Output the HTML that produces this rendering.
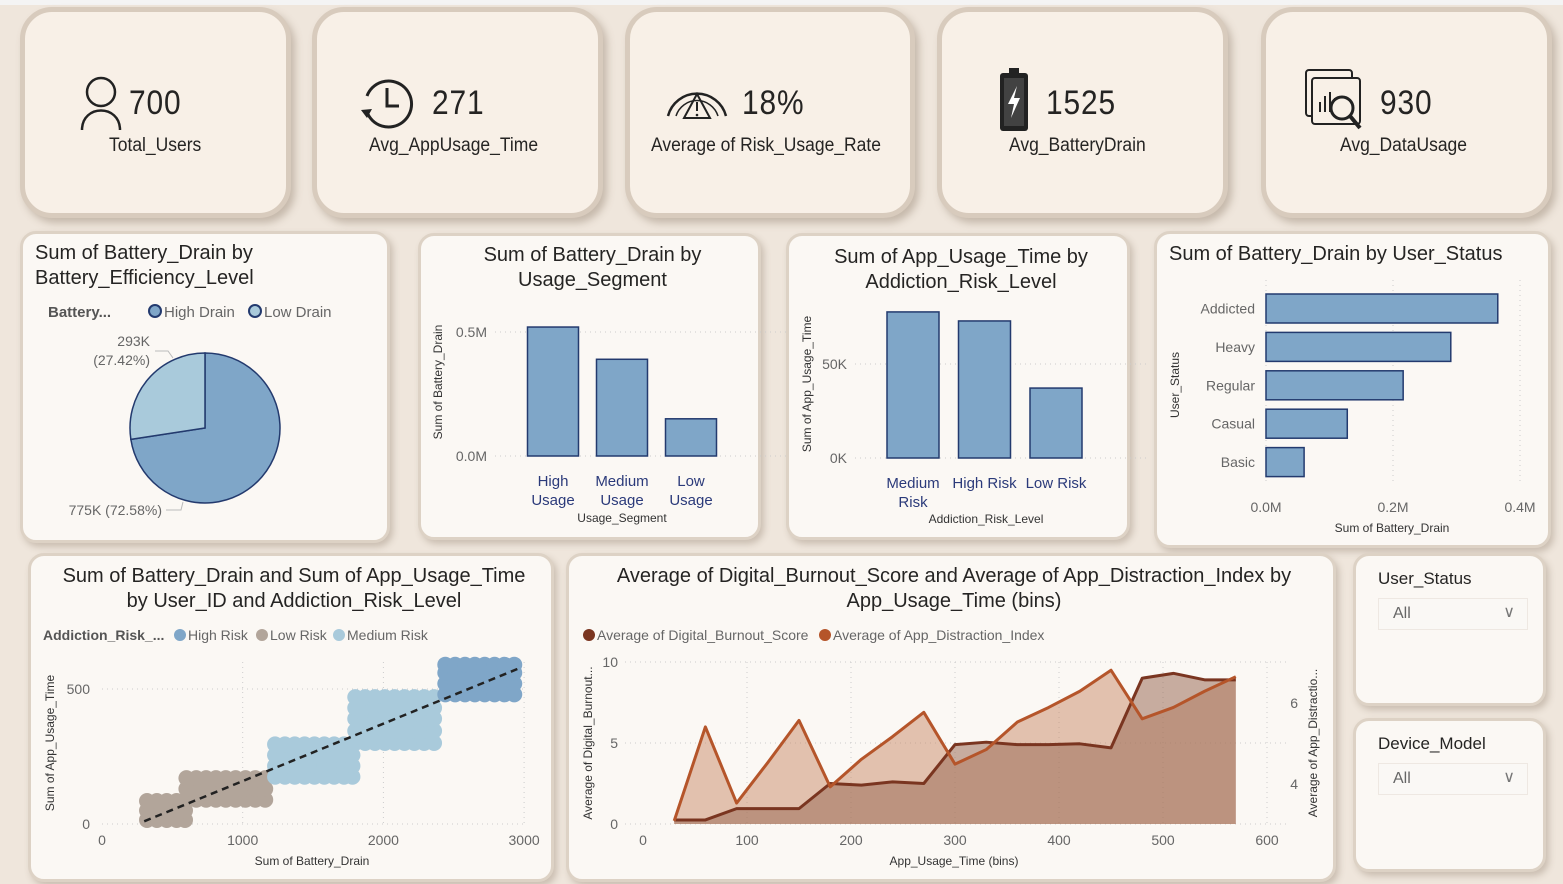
<!DOCTYPE html>
<html><head><meta charset="utf-8">
<style>
*{box-sizing:border-box;margin:0;padding:0}
body{width:1563px;height:884px;overflow:hidden;background:#efe6dc;font-family:"Liberation Sans",sans-serif;position:relative}
.top{position:absolute;left:0;top:0;width:1563px;height:5px;background:#f4f4f4}
.kpi{position:absolute;top:7px;height:211px;background:#f8f0e7;border:5px solid #d8cbbd;border-radius:32px;box-shadow:4px 5px 8px rgba(120,100,80,.35)}
.kv{position:absolute;top:72px;font-size:34px;color:#252423;letter-spacing:1px;transform:scaleX(.88);transform-origin:left}
.kl{position:absolute;top:123px;font-size:19px;color:#252423;white-space:nowrap;transform:scaleX(.92);transform-origin:left}
.card{position:absolute;background:#fbf8f4;border:3px solid #ddd2c5;border-radius:16px;box-shadow:3px 4px 7px rgba(120,100,80,.3)}
.t{position:absolute;font-size:20px;color:#252423;line-height:25px}
.slab{position:absolute;font-size:17px;color:#252423}
.dd{position:absolute;left:22px;width:150px;height:32px;background:#faf8f5;border:1px solid #eee8e2;font-size:16px;color:#666;padding:6px 0 0 14px}
svg#c{position:absolute;left:0;top:0}
svg text{font-family:"Liberation Sans",sans-serif}
</style></head><body>
<div class="top"></div>

<div class="kpi" style="left:20px;width:271px">
 <svg style="position:absolute;left:52px;top:62px" width="48" height="58"><circle cx="24" cy="18" r="14" fill="none" stroke="#222" stroke-width="2.5"/><path d="M5 56 C5 30 43 30 43 56" fill="none" stroke="#222" stroke-width="2.5"/></svg>
 <div class="kv" style="left:104px">700</div>
 <div class="kl" style="left:84px">Total_Users</div>
</div>
<div class="kpi" style="left:312px;width:291px">
 <svg style="position:absolute;left:42px;top:64px" width="56" height="56"><path d="M8 20 A23 23 0 1 1 8 36" fill="none" stroke="#222" stroke-width="3"/><path d="M28 12 V30 H40" fill="none" stroke="#222" stroke-width="3"/><path d="M2 34 L8 42 L13 33" fill="#222"/></svg>
 <div class="kv" style="left:115px">271</div>
 <div class="kl" style="left:52px">Avg_AppUsage_Time</div>
</div>
<div class="kpi" style="left:625px;width:290px">
 <svg style="position:absolute;left:32px;top:60px" width="70" height="56"><path d="M6 44 A30 30 0 0 1 64 44" fill="none" stroke="#222" stroke-width="2.5"/><path d="M14 44 A22 22 0 0 1 56 44" fill="none" stroke="#222" stroke-width="1.5"/><path d="M35 22 L48 46 H22 Z" fill="none" stroke="#222" stroke-width="2"/><line x1="35" y1="30" x2="35" y2="39" stroke="#222" stroke-width="2"/><circle cx="35" cy="43" r="1.3" fill="#222"/></svg>
 <div class="kv" style="left:112px">18%</div>
 <div class="kl" style="left:21px">Average of Risk_Usage_Rate</div>
</div>
<div class="kpi" style="left:937px;width:291px">
 <svg style="position:absolute;left:55px;top:54px" width="36" height="68"><rect x="12" y="2" width="10" height="6" fill="#222"/><rect x="3" y="7" width="28" height="58" rx="3" fill="#222"/><rect x="7" y="12" width="20" height="48" fill="#fff" opacity=".15"/><path d="M20 20 L11 38 H17 L14 52 L23 32 H17 Z" fill="#fff"/></svg>
 <div class="kv" style="left:104px">1525</div>
 <div class="kl" style="left:67px">Avg_BatteryDrain</div>
</div>
<div class="kpi" style="left:1261px;width:291px">
 <svg style="position:absolute;left:38px;top:56px" width="66" height="66"><rect x="2" y="2" width="46" height="46" rx="3" fill="none" stroke="#222" stroke-width="2"/><rect x="8" y="10" width="48" height="46" rx="3" fill="#f8f0e7" stroke="#222" stroke-width="2"/><g stroke="#222" stroke-width="2"><line x1="16" y1="44" x2="16" y2="34"/><line x1="21" y1="44" x2="21" y2="28"/><line x1="26" y1="44" x2="26" y2="24"/><line x1="31" y1="44" x2="31" y2="30"/></g><circle cx="38" cy="40" r="11" fill="#f8f0e7" stroke="#222" stroke-width="3"/><line x1="46" y1="48" x2="56" y2="60" stroke="#222" stroke-width="4"/></svg>
 <div class="kv" style="left:114px">930</div>
 <div class="kl" style="left:74px">Avg_DataUsage</div>
</div>

<div class="card" style="left:20px;top:231px;width:370px;height:312px"><div class="t" style="left:12px;top:7px">Sum of Battery_Drain by<br>Battery_Efficiency_Level</div></div>
<div class="card" style="left:418px;top:233px;width:343px;height:307px"><div class="t" style="left:0;width:343px;text-align:center;top:7px">Sum of Battery_Drain by<br>Usage_Segment</div></div>
<div class="card" style="left:786px;top:233px;width:344px;height:307px"><div class="t" style="left:0;width:344px;text-align:center;top:9px">Sum of App_Usage_Time by<br>Addiction_Risk_Level</div></div>
<div class="card" style="left:1154px;top:231px;width:397px;height:317px"><div class="t" style="left:12px;top:8px">Sum of Battery_Drain by User_Status</div></div>
<div class="card" style="left:28px;top:553px;width:526px;height:329px"><div class="t" style="left:0;width:526px;text-align:center;top:8px">Sum of Battery_Drain and Sum of App_Usage_Time<br>by User_ID and Addiction_Risk_Level</div></div>
<div class="card" style="left:566px;top:553px;width:770px;height:329px"><div class="t" style="left:0;width:770px;text-align:center;top:8px">Average of Digital_Burnout_Score and Average of App_Distraction_Index by<br>App_Usage_Time (bins)</div></div>
<div class="card" style="left:1353px;top:553px;width:193px;height:153px"><div class="slab" style="left:22px;top:13px">User_Status</div><div class="dd" style="top:42px">All<span style="position:absolute;right:12px;top:3px;color:#777">&#x2228;</span></div></div>
<div class="card" style="left:1353px;top:718px;width:193px;height:154px"><div class="slab" style="left:22px;top:13px">Device_Model</div><div class="dd" style="top:42px">All<span style="position:absolute;right:12px;top:3px;color:#777">&#x2228;</span></div></div>

<svg id="c" width="1563" height="884"></svg>
<script>
// ---- data ----
const pieLabels=["High Drain","Low Drain"];
const pieValues=[775.4,292.9];
const segCats=["High|Usage","Medium|Usage","Low|Usage"];
const segVals=[0.52,0.39,0.15];
const riskCats=["Medium|Risk","High Risk","Low Risk"];
const riskVals=[77.7,72.9,37.2];
const statusCats=["Addicted","Heavy","Regular","Casual","Basic"];
const statusVals=[0.365,0.291,0.216,0.128,0.060];
const scatterGroups=["Low Risk","Low Risk","Medium Risk","Medium Risk","High Risk"];
const scatterXs=[[320,390,460,530,590],[600,670,740,810,880,950,1020,1090,1160],[1230,1300,1370,1440,1510,1580,1650,1720,1780],[1800,1870,1940,2010,2080,2150,2220,2290,2360],[2440,2510,2580,2650,2720,2790,2860,2930]];
const scatterYs=[[15,50,85],[90,130,170],[175,215,255,295],[300,345,390,430,470],[480,520,560,590]];
const trendX=[300,2980];
const trendY=[10,580];
const binX=[30,60,90,120,150,180,210,240,270,300,330,360,390,420,450,480,510,540,570];
const burnout=[0.25,0.25,0.95,0.95,0.95,2.5,2.4,2.6,2.5,4.9,5.05,4.9,4.9,4.95,4.7,9.0,9.3,8.9,8.9];
const distraction=[3.09,5.41,3.53,4.53,5.57,3.93,4.61,5.17,5.77,4.49,4.85,5.53,5.89,6.29,6.81,5.61,5.89,6.29,6.65];

const S=document.getElementById('c');
const NS="http://www.w3.org/2000/svg";
function mk(tag,at,parent){const e=document.createElementNS(NS,tag);for(const k in at)e.setAttribute(k,at[k]);(parent||S).appendChild(e);return e;}
function tx(x,y,s,at){const e=mk('text',Object.assign({x:x,y:y,'font-size':14,fill:'#666'},at||{}));e.textContent=s;return e;}
function grid(x1,y1,x2,y2){return mk('line',{x1:x1,y1:y1,x2:x2,y2:y2,stroke:'#ccc','stroke-dasharray':'1 4'});}
const BAR='#7fa6c8',EDGE='#233a6e';

// ---- pie ----
let e;
e=tx(48,317,'Battery...',{'font-weight':'bold',fill:'#555','font-size':15});


const pieCols=[BAR,'#a9cadb'];
const legX=[148,248];
pieLabels.forEach((l,i)=>{
 e=mk('circle',{cx:legX[i]+7,cy:311,r:6,fill:pieCols[i],stroke:EDGE,'stroke-width':2});
 
 
 e=tx(legX[i]+16,317,l,{'font-size':15});
 
 
});
const pcx=205,pcy=428,pr=75,tot=pieValues.reduce((a,b)=>a+b,0);
let ang=-Math.PI/2;
pieValues.forEach((v,i)=>{
 const a2=ang+v/tot*2*Math.PI;
 const large=(a2-ang)>Math.PI?1:0;
 const d=`M${pcx} ${pcy} L${pcx+pr*Math.cos(ang)} ${pcy+pr*Math.sin(ang)} A${pr} ${pr} 0 ${large} 1 ${pcx+pr*Math.cos(a2)} ${pcy+pr*Math.sin(a2)} Z`;
 e=mk('path',{d:d,fill:pieCols[i],stroke:EDGE,'stroke-width':1.5});
 
 
 ang=a2;
});
const pct=pieValues.map(v=>(v/tot*100).toFixed(2));
e=tx(150,346,Math.round(pieValues[1])+'K',{'text-anchor':'end'});


e=tx(150,365,'('+pct[1]+'%)',{'text-anchor':'end'});


mk('path',{d:'M155 351 H168 L173 358',fill:'none',stroke:'#bbb'});
e=tx(162,515,Math.round(pieValues[0])+'K ('+pct[0]+'%)',{'text-anchor':'end'});


mk('path',{d:'M166 510 H181 L183 502',fill:'none',stroke:'#bbb'});

// ---- vertical bars ----
function vbars(cats,vals,x0,step,bw,y0,scale,ticks,tickLab,ax,names){
 ticks.forEach((t,i)=>{const y=y0-t*scale;grid(ax+8,y,ax+300,y);
  e=tx(ax,y+5,tickLab[i],{'text-anchor':'end'});
  
  });
 cats.forEach((c,i)=>{
  const cx=x0+i*step,h=vals[i]*scale;
  e=mk('rect',{x:cx-bw/2,y:y0-h,width:bw,height:h,fill:BAR,stroke:EDGE,'stroke-width':1.5});
  
  
  c.split('|').forEach((s,j)=>{e=tx(cx,y0+30+j*19,s,{'text-anchor':'middle',fill:'#2b3a7a','font-size':15});
   
   });
 });
}
vbars(segCats,segVals,553,69,51,456,248,[0,0.5],['0.0M','0.5M'],487,'segment');
e=tx(622,522,'Usage_Segment',{'text-anchor':'middle',fill:'#333','font-size':12});


e=tx(0,0,'Sum of Battery_Drain',{transform:'translate(442,382) rotate(-90)','text-anchor':'middle',fill:'#333','font-size':12});


vbars(riskCats,riskVals,913,71.5,52,458,1.88,[0,50],['0K','50K'],847,'risk');
e=tx(986,523,'Addiction_Risk_Level',{'text-anchor':'middle',fill:'#333','font-size':12});


e=tx(0,0,'Sum of App_Usage_Time',{transform:'translate(811,384) rotate(-90)','text-anchor':'middle',fill:'#333','font-size':12});



// ---- horizontal bars ----
const hx=v=>1266+v*635;
[0,0.2,0.4].forEach(t=>{grid(hx(t),280,hx(t),485);
 e=tx(hx(t),512,t.toFixed(1)+'M',{'text-anchor':'middle'});
 
 });
statusCats.forEach((c,i)=>{
 const cy=308.5+i*38.4;
 e=mk('rect',{x:1266,y:cy-14.5,width:hx(statusVals[i])-1266,height:29,fill:BAR,stroke:EDGE,'stroke-width':1.5});
 
 
 e=tx(1255,cy+5,c,{'text-anchor':'end'});
 
 
});
e=tx(1392,532,'Sum of Battery_Drain',{'text-anchor':'middle',fill:'#333','font-size':12});


e=tx(0,0,'User_Status',{transform:'translate(1179,385) rotate(-90)','text-anchor':'middle',fill:'#333','font-size':12});



// ---- scatter ----
const sx=v=>102+v*0.1407, sy=v=>824-v*0.27;
const grpCol={"High Risk":BAR,"Low Risk":"#b2a59a","Medium Risk":"#a9cadb"};
e=tx(43,640,'Addiction_Risk_...',{'font-weight':'bold',fill:'#555','font-size':14});


[["High Risk",174],["Low Risk",256],["Medium Risk",333]].forEach(p=>{
 e=mk('circle',{cx:p[1]+6,cy:635,r:6,fill:grpCol[p[0]]});
 
 
 e=tx(p[1]+14,640,p[0],{'font-size':14});
 
 
});
[1000,2000,3000].forEach(t=>grid(sx(t),662,sx(t),824));
[0,500].forEach(t=>grid(102,sy(t),526,sy(t)));
[0,1000,2000,3000].forEach(t=>{e=tx(sx(t),845,String(t),{'text-anchor':'middle'});
 
 });
[0,500].forEach(t=>{e=tx(90,sy(t)+5,String(t),{'text-anchor':'end'});
 
 });
scatterGroups.forEach((g,k)=>{
 scatterXs[k].forEach(x=>scatterYs[k].forEach(y=>{
  e=mk('circle',{cx:sx(x),cy:sy(y),r:8,fill:grpCol[g]});
  
  
 }));
});
e=mk('line',{x1:sx(trendX[0]),y1:sy(trendY[0]),x2:sx(trendX[1]),y2:sy(trendY[1]),stroke:'#222','stroke-width':2.5,'stroke-dasharray':'7 5'});


e=tx(312,865,'Sum of Battery_Drain',{'text-anchor':'middle',fill:'#333','font-size':12});


e=tx(0,0,'Sum of App_Usage_Time',{transform:'translate(54,743) rotate(-90)','text-anchor':'middle',fill:'#333','font-size':12});



// ---- area ----
const ax_=v=>643+v*1.04, ayL=v=>824-v*16.2, ayR=r=>784-40.5*(r-4);
const dk='#7a3520',lt='#b5552a';
[[583,'Average of Digital_Burnout_Score',dk],[819,'Average of App_Distraction_Index',lt]].forEach(p=>{
 e=mk('circle',{cx:p[0]+6,cy:635,r:6,fill:p[2]});
 
 
 e=tx(p[0]+14,640,p[1],{'font-size':14});
 
 
});
[100,200,300,400,500,600].forEach(t=>grid(ax_(t),662,ax_(t),824));
[0,5,10].forEach(t=>{grid(625,ayL(t),1290,ayL(t));
 e=tx(618,ayL(t)+5,String(t),{'text-anchor':'end'});
 
 });
[0,100,200,300,400,500,600].forEach(t=>{e=tx(ax_(t),845,String(t),{'text-anchor':'middle'});
 
 });
[4,6].forEach(t=>{e=tx(1298,ayR(t)+5,String(t),{'text-anchor':'end'});
 
 });
function pts(ys,f){return binX.map((x,i)=>ax_(x)+','+f(ys[i])).join(' ');}
const base=`${ax_(binX[binX.length-1])},${ayL(0)} ${ax_(binX[0])},${ayL(0)}`;
e=mk('polygon',{points:pts(distraction,ayR)+' '+base,fill:'#c98a68','fill-opacity':.5});


e=mk('polygon',{points:pts(burnout,ayL)+' '+base,fill:'#9c6e5a','fill-opacity':.55});


e=mk('polyline',{points:pts(burnout,ayL),fill:'none',stroke:dk,'stroke-width':3,'stroke-linejoin':'round'});


e=mk('polyline',{points:pts(distraction,ayR),fill:'none',stroke:lt,'stroke-width':3,'stroke-linejoin':'round'});


e=tx(954,865,'App_Usage_Time (bins)',{'text-anchor':'middle',fill:'#333','font-size':12});


e=tx(0,0,'Average of Digital_Burnout...',{transform:'translate(592,743) rotate(-90)','text-anchor':'middle',fill:'#333','font-size':12});


e=tx(0,0,'Average of App_Distractio...',{transform:'translate(1317,743) rotate(-90)','text-anchor':'middle',fill:'#333','font-size':12});


</script>
</body></html>
